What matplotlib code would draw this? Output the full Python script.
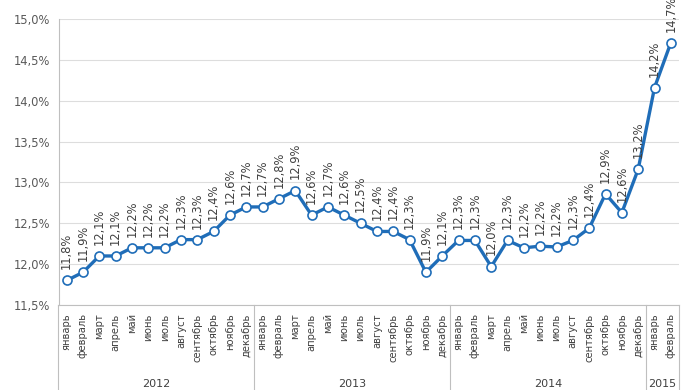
import matplotlib.pyplot as plt
import matplotlib.transforms as mtransforms

# monthly values, %
months = ["январь", "февраль", "март", "апрель", "май", "июнь", "июль",
          "август", "сентябрь", "октябрь", "ноябрь", "декабрь"]
years = ["2012", "2013", "2014", "2015"]
months_per_year = [12, 12, 12, 2]
values = [11.8, 11.9, 12.1, 12.1, 12.2, 12.2, 12.2, 12.3, 12.3, 12.4, 12.6, 12.7,
          12.7, 12.8, 12.9, 12.6, 12.7, 12.6, 12.5, 12.4, 12.4, 12.3, 11.9, 12.1,
          12.29, 12.29, 11.97, 12.29, 12.2, 12.22, 12.21, 12.29, 12.44, 12.86, 12.63, 13.16,
          14.16, 14.71]
y_ticks = [11.5, 12.0, 12.5, 13.0, 13.5, 14.0, 14.5, 15.0]
y_labels = ["11,5%", "12,0%", "12,5%", "13,0%", "13,5%", "14,0%", "14,5%", "15,0%"]

x_labels = []
for n in months_per_year:
    x_labels += months[:n]

blue = "#1F6DB8"
grey_axis = "#BFBFBF"
text_col = "#404040"

fig = plt.figure(figsize=(6.84, 3.9), dpi=100)
ax = fig.add_axes([58.5 / 684, 85 / 390, 620.5 / 684, 286 / 390])

x = list(range(len(values)))
ax.plot(x, values, color=blue, lw=2.4, marker="o", ms=6.5,
        mfc="white", mec=blue, mew=1.2, zorder=3)

for xi, v in zip(x, values):
    lbl = ("%.1f%%" % v).replace(".", ",")
    ax.annotate(lbl, (xi, v), xytext=(0, 8), textcoords="offset points",
                rotation=90, ha="center", va="bottom", fontsize=8.3,
                color=text_col, annotation_clip=False)

ax.set_xlim(-0.5, len(values) - 0.5)
ax.set_ylim(11.5, 15.0)
ax.set_yticks(y_ticks)
ax.set_yticklabels(y_labels, fontsize=8.3, color="#595959")
ax.set_xticks(x)
ax.set_xticklabels(x_labels, rotation=90, fontsize=7.2, color=text_col,
                   va="top")
ax.tick_params(axis="both", length=0)
ax.tick_params(axis="x", pad=6)
ax.tick_params(axis="y", pad=6)

ax.grid(axis="y", color="#DDDDDD", lw=0.8)
ax.set_axisbelow(True)
for s in ["top", "right"]:
    ax.spines[s].set_visible(False)
ax.spines["left"].set_color(grey_axis)
ax.spines["bottom"].set_color(grey_axis)

# year grouping below the month labels
trans = mtransforms.blended_transform_factory(ax.transData, ax.transAxes)
bottom = -0.31
start = -0.5
bounds = [start]
for n in months_per_year:
    bounds.append(bounds[-1] + n)
for i, yr in enumerate(years):
    mid = (bounds[i] + bounds[i + 1]) / 2
    ax.text(mid, -0.275, yr, transform=trans, ha="center", va="center",
            fontsize=8, color=text_col)
for b in bounds:
    ax.plot([b, b], [0, bottom], transform=trans, color=grey_axis,
            lw=0.8, clip_on=False)

fig.savefig("out.png", dpi=100)
